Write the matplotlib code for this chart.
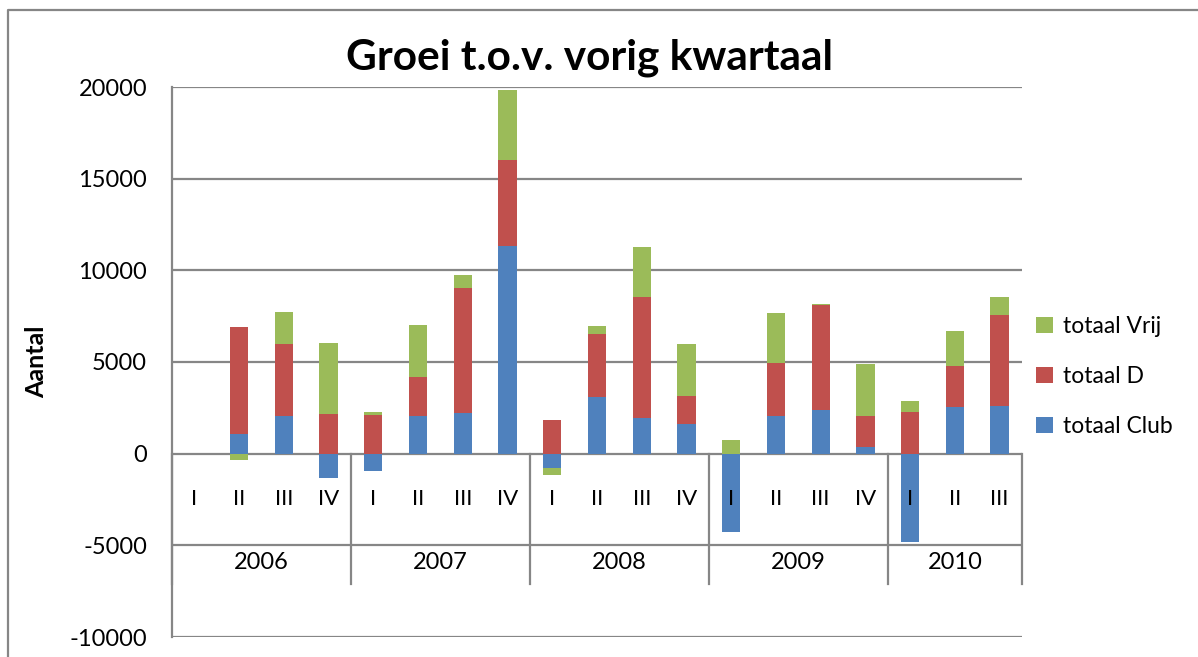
"""Groei t.o.v. vorig kwartaal: gestapelde staven per kwartaal (Excel-stijl)."""

import matplotlib

matplotlib.use("Agg")
import matplotlib.pyplot as plt
from matplotlib.lines import Line2D
from matplotlib.patches import Patch

plt.rcParams["font.family"] = ["Lato", "DejaVu Sans"]
plt.rcParams["axes.unicode_minus"] = False

# --- data -----------------------------------------------------------------
years = ["2006", "2007", "2008", "2009", "2010"]
quarters_per_year = [4, 4, 4, 4, 3]
quarter_labels = ["I", "II", "III", "IV"] * 4 + ["I", "II", "III"]

totaal_club = [0, 1100, 2070, -1330, -930, 2040, 2220, 11330, -770, 3110,
               1930, 1600, -4290, 2070, 2380, 345, -4840, 2545, 2600]
totaal_d = [0, 5800, 3890, 2170, 2090, 2160, 6800, 4670, 1860, 3400,
            6635, 1530, 0, 2895, 5710, 1690, 2255, 2220, 4945]
totaal_vrij = [0, -350, 1770, 3850, 200, 2800, 745, 3840, -380, 455,
               2725, 2870, 745, 2725, 75, 2855, 600, 1945, 1020]

series = [
    ("totaal Club", totaal_club, "#4F81BD"),
    ("totaal D", totaal_d, "#C0504D"),
    ("totaal Vrij", totaal_vrij, "#9BBB59"),
]

GRID = "#868686"
W, H = 1198, 657

fig = plt.figure(figsize=(W / 100, H / 100), dpi=100)
ax = fig.add_axes([172 / W, (H - 637) / H, 850 / W, 550 / H])

n = len(quarter_labels)
x = list(range(n))

# Excel stapelt positieve en negatieve waarden apart
pos_base = [0] * n
neg_base = [0] * n
for name, vals, color in series:
    bottoms = [pos_base[i] if v >= 0 else neg_base[i] for i, v in enumerate(vals)]
    ax.bar(x, vals, bottom=bottoms, width=0.41, color=color,
           linewidth=0, zorder=3)
    for i, v in enumerate(vals):
        if v >= 0:
            pos_base[i] += v
        else:
            neg_base[i] += v

ax.set_xlim(-0.5, n - 0.5)
ax.set_ylim(-10000, 20000)
ax.set_yticks(range(-10000, 20001, 5000))
ax.tick_params(axis="y", length=0, labelsize=17, pad=18)
ax.set_xticks([])
for s in ["top", "right", "bottom"]:
    ax.spines[s].set_visible(False)
ax.spines["left"].set_color(GRID)
ax.spines["left"].set_linewidth(1.6)
ax.yaxis.grid(True, color=GRID, linewidth=1.6, zorder=0)
ax.set_axisbelow(True)

fig.text(37 / W, 1 - 362 / H, "Aantal", rotation=90, ha="center",
         va="center", fontsize=18, fontweight="bold")

# meerlaagse categorie-as: kwartalen en jaren
tier_bottom = -7090
for i, q in enumerate(quarter_labels):
    ax.text(i, -2450, q, ha="center", va="center", fontsize=16)
start = 0
ax.plot([-0.5, -0.5], [0, tier_bottom], color=GRID, lw=1.6, clip_on=False, zorder=2)
for year, cnt in zip(years, quarters_per_year):
    end = start + cnt
    ax.plot([end - 0.5, end - 0.5], [0, tier_bottom], color=GRID, lw=1.6,
            clip_on=False, zorder=2)
    ax.text((start + end - 1) / 2, -5950, year, ha="center", va="center",
            fontsize=17)
    start = end

fig.text(590 / W, 1 - 58 / H, "Groei t.o.v. vorig kwartaal", ha="center",
         va="center", fontsize=30.5, fontweight="bold")

handles = [Patch(facecolor=c, label=nm) for nm, _, c in series][::-1]
fig.legend(handles=handles, loc="upper left",
           bbox_to_anchor=(1025 / W, 1 - 305 / H), frameon=False,
           fontsize=16.5, handlelength=0.7, handleheight=0.7,
           handletextpad=0.45, labelspacing=1.25, borderpad=0)

# rand van het grafiekgebied
fig.add_artist(Line2D([8 / W, 8 / W, 1.0], [0.0, 1 - 10 / H, 1 - 10 / H],
                      color=GRID, lw=1.6, transform=fig.transFigure))

fig.savefig("out.png", dpi=100, facecolor="white")
